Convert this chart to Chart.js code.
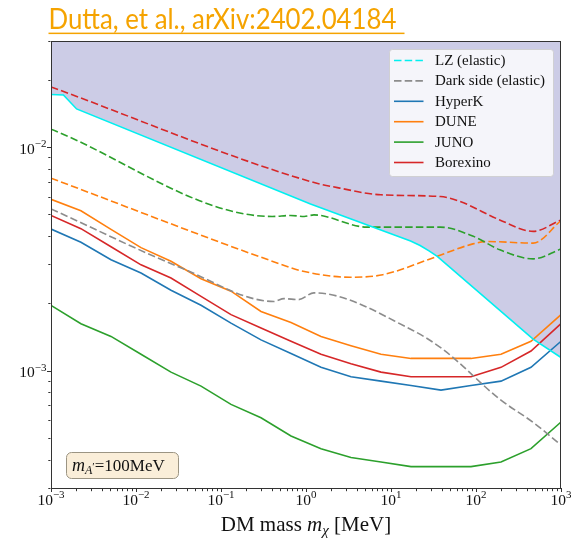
<!DOCTYPE html>
<html>
<head>
<meta charset="utf-8">
<script src="https://cdn.jsdelivr.net/npm/chart.js@4.4.1/dist/chart.umd.min.js"></script>
<style>
  html, body { margin: 0; padding: 0; background: #fff; }
</style>
</head>
<body>
<canvas id="limitChart" width="571" height="538"></canvas>
<script>
// DM mass grid (MeV) shared by the solid sensitivity curves
const massGrid = [0.001, 0.00225, 0.00508, 0.01145, 0.0258, 0.0582, 0.1311, 0.2955, 0.666, 1.501, 3.383, 7.626, 17.19, 38.74, 87.3, 196.8, 443.6, 1000];

const hyperK = [0.00432, 0.00377, 0.00315, 0.00275, 0.00230, 0.00197, 0.00164, 0.00138, 0.00120, 0.00104, 0.000944, 0.000902, 0.000863, 0.000822, 0.000863, 0.000902, 0.00104, 0.00136];
const dune = [0.00587, 0.00522, 0.00431, 0.00357, 0.00310, 0.00259, 0.00228, 0.00185, 0.00165, 0.00143, 0.00130, 0.00119, 0.00114, 0.00114, 0.00114, 0.00119, 0.00136, 0.00179];
const juno = [0.00197, 0.00163, 0.00143, 0.00119, 0.000990, 0.000857, 0.000710, 0.000619, 0.000513, 0.000450, 0.000411, 0.000392, 0.000374, 0.000374, 0.000374, 0.000392, 0.000450, 0.000592];
const borexino = [0.00497, 0.00434, 0.00360, 0.00299, 0.00261, 0.00216, 0.00179, 0.00156, 0.00136, 0.00119, 0.00108, 0.000990, 0.000944, 0.000944, 0.000944, 0.00104, 0.00123, 0.00163];

// elastic limits
const lzMass = [0.001, 0.0014, 0.002, 1.13, 12, 17, 22, 28, 35, 470, 1000];
const lzLimit = [0.0173, 0.0172, 0.0149, 0.00559, 0.00401, 0.00382, 0.00365, 0.00345, 0.00326, 0.00139, 0.00115];
const darkSideMass = [0.001, 0.036, 0.42, 0.55, 0.82, 1.24, 17, 41, 191, 472, 1000];
const darkSideLimit = [0.00532, 0.00287, 0.00205, 0.00211, 0.00209, 0.00224, 0.00154, 0.00125, 0.000748, 0.000589, 0.000467];

// dashed curves (no legend entry)
const borexinoDashedMass = [0.001, 1.13, 2.5, 7.6, 38, 65, 190, 470, 1000];
const borexinoDashedLimit = [0.0187, 0.00705, 0.00659, 0.00615, 0.00604, 0.00574, 0.00475, 0.00422, 0.00475];
const junoDashedMass = [0.001, 0.40, 0.66, 0.95, 1.24, 5.2, 38, 93, 191, 472, 1000];
const junoDashedLimit = [0.0121, 0.00492, 0.00497, 0.00492, 0.00500, 0.00441, 0.00441, 0.00401, 0.00349, 0.00318, 0.00352];
const duneDashedMass = [0.001, 0.49, 0.85, 3.3, 8.0, 31, 92, 134, 470, 1000];
const duneDashedLimit = [0.00730, 0.00302, 0.00282, 0.00263, 0.00270, 0.00321, 0.00371, 0.00380, 0.00374, 0.00472];

// axes
const xMajor = [1e-3, 1e-2, 1e-1, 1, 10, 100, 1000];
const xTickExp = ['\u22123', '\u22122', '\u22121', '0', '1', '2', '3'];
const yMajor = [1e-3, 1e-2];
const yTickExp = ['\u22123', '\u22122'];

const SERIF = '"Liberation Serif", "DejaVu Serif", serif';
const DASH = [7.5, 3.2];

function pairs(xs, ys) {
	return xs.map((v, i) => ({ x: v, y: ys[i] }));
}

function logTicks(lo, hi, majors) {
	var out = [];
	for (var e = -4; e <= 3; e++) {
		for (var s = 1; s <= 9; s++) {
			var v = parseFloat((s * Math.pow(10, e)).toPrecision(3));
			if (v < lo * 0.999 || v > hi * 1.001) continue;
			out.push({ value: v, major: majors.some(m => Math.abs(m - v) / m < 1e-6) });
		}
	}
	return out;
}

function axisGrid(isY) {
	return {
		drawOnChartArea: false,
		drawTicks: true,
		tickLength: 4,
		tickColor: '#333',
		tickWidth: 1,
		tickBorderDash: (c) => (c.tick && c.tick.major) ? [] : [2.2, 10],
		tickBorderDashOffset: (c) => (c.tick && c.tick.major) ? 0 : (isY ? 10.9 : 0)
	};
}

function drawPower(ctx, exp, px, baseline, align) {
	ctx.font = '15.5px ' + SERIF;
	var wb = ctx.measureText('10').width;
	ctx.font = '11px ' + SERIF;
	var we = ctx.measureText(exp).width;
	var left = align === 'center' ? px - (wb + we) / 2 : px - (wb + we);
	ctx.textAlign = 'left';
	ctx.textBaseline = 'alphabetic';
	ctx.font = '15.5px ' + SERIF;
	ctx.fillText('10', left, baseline);
	ctx.font = '11px ' + SERIF;
	ctx.fillText(exp, left + wb, baseline - 6.5);
}

function drawRuns(ctx, runs, startX, baseline) {
	var xpos = startX;
	runs.forEach(r => {
		ctx.font = r.font;
		ctx.fillText(r.text, xpos, baseline + (r.dy || 0));
		xpos += ctx.measureText(r.text).width;
	});
	return xpos;
}

function runsWidth(ctx, runs) {
	var w = 0;
	runs.forEach(r => { ctx.font = r.font; w += ctx.measureText(r.text).width; });
	return w;
}

const decorations = {
	id: 'decorations',
	afterDraw(chart) {
		const ctx = chart.ctx;
		const a = chart.chartArea;
		const xs = chart.scales.x, ys = chart.scales.y;
		ctx.save();

		// frame
		ctx.strokeStyle = '#333';
		ctx.lineWidth = 1;
		ctx.strokeRect(Math.floor(a.left) + 0.5, Math.floor(a.top) + 0.5,
			Math.round(a.right - a.left) - 1, Math.round(a.bottom - a.top));

		// tick labels
		ctx.fillStyle = '#111';
		xMajor.forEach((v, i) => drawPower(ctx, xTickExp[i], xs.getPixelForValue(v), 504.5, 'center'));
		yMajor.forEach((v, i) => drawPower(ctx, yTickExp[i], 46.5, ys.getPixelForValue(v) + 6, 'right'));

		// x axis title
		var xt = [
			{ text: 'DM mass ', font: '21px ' + SERIF },
			{ text: 'm', font: 'italic 21px ' + SERIF },
			{ text: '\u03c7', font: 'italic 15px ' + SERIF, dy: 4 },
			{ text: ' [MeV]', font: '21px ' + SERIF }
		];
		var cx = (a.left + a.right) / 2;
		drawRuns(ctx, xt, cx - runsWidth(ctx, xt) / 2, 530.5);

		// mediator mass box
		ctx.beginPath();
		ctx.roundRect(66.5, 452.5, 112, 26, 5);
		ctx.fillStyle = '#faeed9';
		ctx.fill();
		ctx.strokeStyle = '#9b9483';
		ctx.stroke();
		ctx.fillStyle = '#111';
		drawRuns(ctx, [
			{ text: 'm', font: 'italic 18px ' + SERIF },
			{ text: 'A', font: 'italic 12px ' + SERIF, dy: 3.5 },
			{ text: '\u2032', font: '11px ' + SERIF, dy: -1 },
			{ text: '=100MeV', font: '17px ' + SERIF }
		], 72, 470.5);

		// legend
		ctx.beginPath();
		ctx.roundRect(389.5, 49.5, 164, 127, 3);
		ctx.fillStyle = 'rgba(255,255,255,0.8)';
		ctx.fill();
		ctx.strokeStyle = 'rgba(204,204,204,0.8)';
		ctx.stroke();
		var row = 0;
		chart.data.datasets.forEach(ds => {
			if (!ds.label) return;
			var yy = 60.5 + row * 20.4;
			ctx.beginPath();
			ctx.setLineDash(ds.legendDash || ds.borderDash || []);
			ctx.strokeStyle = ds.borderColor;
			ctx.lineWidth = 1.6;
			ctx.moveTo(394, yy);
			ctx.lineTo(423.5, yy);
			ctx.stroke();
			ctx.setLineDash([]);
			ctx.fillStyle = '#111';
			ctx.font = '15px ' + SERIF;
			ctx.textBaseline = 'middle';
			ctx.fillText(ds.label, 435, yy + 0.5);
			ctx.textBaseline = 'alphabetic';
			row++;
		});

		// reference link
		ctx.fillStyle = '#f5a300';
		ctx.font = '29px Lato, "Open Sans", sans-serif';
		ctx.fillText('Dutta, et al., arXiv:2402.04184', 48.5, 28.5, 348);
		ctx.fillRect(48.5, 32.6, 356, 1.5);

		ctx.restore();
	}
};

const solid = (label, ys, color) => ({
	label: label, data: pairs(massGrid, ys), borderColor: color, borderWidth: 1.6, tension: 0
});
const dashedLine = (label, xs, ys, color) => ({
	label: label, data: pairs(xs, ys), borderColor: color, borderWidth: 1.6,
	borderDash: DASH, cubicInterpolationMode: 'monotone'
});

// LZ edge is straight segments, region above it shaded
const lzSet = solid('LZ (elastic)', [], '#00f0f0');
lzSet.data = pairs(lzMass, lzLimit);
lzSet.legendDash = DASH;
lzSet.fill = 'end';
lzSet.backgroundColor = 'rgb(204,204,230)';

new Chart(document.getElementById('limitChart'), {
	type: 'line',
	data: {
		datasets: [
			lzSet,
			dashedLine('Dark side (elastic)', darkSideMass, darkSideLimit, '#8c8c8c'),
			solid('HyperK', hyperK, '#1f77b4'),
			solid('DUNE', dune, '#ff7f0e'),
			solid('JUNO', juno, '#2ca02c'),
			solid('Borexino', borexino, '#d62728'),
			dashedLine('', borexinoDashedMass, borexinoDashedLimit, '#d62728'),
			dashedLine('', junoDashedMass, junoDashedLimit, '#2ca02c'),
			dashedLine('', duneDashedMass, duneDashedLimit, '#ff7f0e')
		]
	},
	options: {
		responsive: false,
		animation: false,
		devicePixelRatio: 1,
		elements: { point: { radius: 0, hoverRadius: 0 } },
		layout: { padding: { left: 47, right: 10, top: 41, bottom: 46 } },
		plugins: {
			legend: { display: false },
			tooltip: { enabled: false },
			filler: { drawTime: 'beforeDatasetsDraw' }
		},
		scales: {
			x: {
				type: 'logarithmic',
				min: 1e-3,
				max: 1e3,
				afterBuildTicks: (s) => { s.ticks = logTicks(1e-3, 1e3, xMajor); },
				ticks: { display: false },
				grid: axisGrid(false),
				border: { display: true, color: '#333', width: 1 }
			},
			y: {
				type: 'logarithmic',
				min: 3e-4,
				max: 3e-2,
				afterBuildTicks: (s) => { s.ticks = logTicks(3e-4, 3e-2, yMajor); },
				ticks: { display: false },
				grid: axisGrid(true),
				border: { display: true, color: '#333', width: 1 }
			}
		}
	},
	plugins: [decorations]
});
</script>
</body>
</html>
